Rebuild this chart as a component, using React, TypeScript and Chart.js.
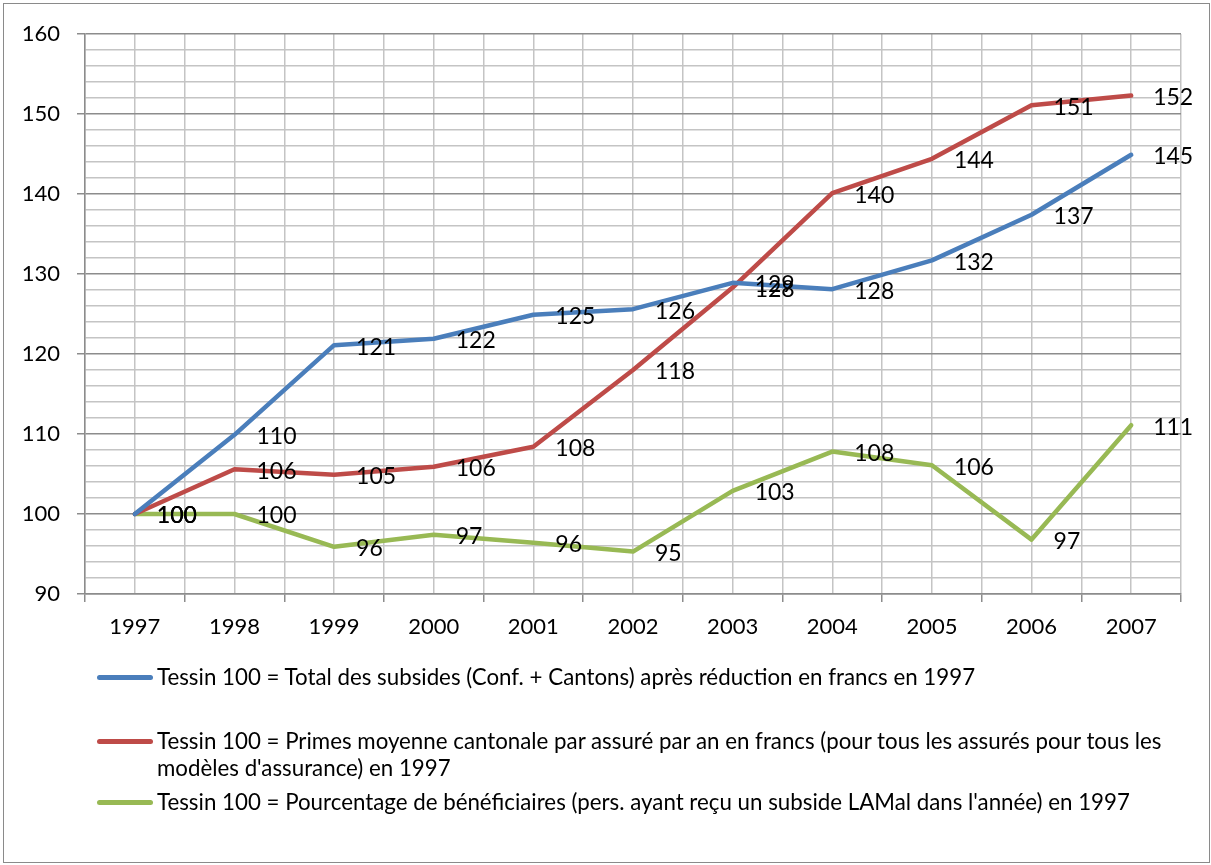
import React, { useEffect, useRef } from "react";
import { Chart, registerables } from "chart.js";

Chart.register(...registerables);

const years = ["1997", "1998", "1999", "2000", "2001", "2002", "2003", "2004", "2005", "2006", "2007"];
const totalSubsides = [100, 109.9, 121.1, 121.9, 124.9, 125.6, 128.9, 128.1, 131.7, 137.4, 144.9];
const primesMoyennes = [100, 105.6, 104.9, 105.9, 108.4, 118.0, 128.3, 140.1, 144.4, 151.1, 152.3];
const beneficiaires = [100, 100, 95.9, 97.4, 96.4, 95.3, 102.9, 107.8, 106.1, 96.8, 111.1];

const seriesLabels = [
  "Tessin 100 = Total des subsides (Conf. + Cantons) après réduction en francs en 1997",
  "Tessin 100 = Primes moyenne cantonale par assuré par an en francs (pour tous les assurés pour tous les\nmodèles d'assurance) en 1997",
  "Tessin 100 = Pourcentage de bénéficiaires (pers. ayant reçu un subside LAMal dans l'année) en 1997",
];
const seriesColors = ["#4A7EBB", "#BE4B48", "#98B954"];
const seriesValues = [totalSubsides, primesMoyennes, beneficiaires];

const yMin = 90;
const yMax = 160;

const FONT = "Lato, 'Open Sans', sans-serif";

const dataLabelPlugin = {
  id: "dataLabels",
  afterDatasetsDraw(chart: any) {
    const ctx = chart.ctx;
    ctx.save();
    ctx.font = `23px ${FONT}`;
    ctx.fillStyle = "#000";
    ctx.textAlign = "left";
    ctx.textBaseline = "middle";
    chart.data.datasets.forEach((ds: any, i: number) => {
      const meta = chart.getDatasetMeta(i);
      meta.data.forEach((pt: any, j: number) => {
        const v = ds.data[j].y;
        ctx.fillText(String(Math.round(v)), pt.x + 22, pt.y + 2);
      });
    });
    ctx.restore();
  },
};

export default function App() {
  const canvasRef = useRef<HTMLCanvasElement | null>(null);

  useEffect(() => {
    if (!canvasRef.current) return;
    const chart = new Chart(canvasRef.current, {
      type: "line",
      data: {
        datasets: seriesValues.map((vals, i) => ({
          label: seriesLabels[i],
          data: vals.map((v, j) => ({ x: j, y: v })),
          borderColor: seriesColors[i],
          backgroundColor: seriesColors[i],
          borderWidth: 4.5,
          pointRadius: 0,
          tension: 0,
          borderJoinStyle: "round",
          borderCapStyle: "round",
        })),
      },
      options: {
        animation: false,
        responsive: false,
        devicePixelRatio: 1,
        layout: { padding: { left: 0, right: 30, top: 34, bottom: 0 } },
        plugins: {
          legend: { display: false },
          tooltip: { enabled: false },
          title: { display: false },
        },
        scales: {
          x: {
            type: "linear",
            min: -0.5,
            max: years.length - 0.5,
            afterFit: (scale: any) => {
              scale.height = 271;
            },
            ticks: {
              stepSize: 0.5,
              autoSkip: false,
              maxRotation: 0,
              padding: 12,
              color: "#000",
              font: { family: FONT, size: 22 },
              callback: (value: any) =>
                Number.isInteger(value) ? years[value] ?? "" : "",
            },
            grid: {
              color: "#c4c4c4",
              lineWidth: 1.5,
              tickLength: 8,
              tickColor: (ctx: any) =>
                ctx.tick && !Number.isInteger(ctx.tick.value) ? "#8c8c8c" : "rgba(0,0,0,0)",
            },
            border: { color: "#8c8c8c", width: 1.5 },
          },
          y: {
            min: yMin,
            max: yMax,
            afterFit: (scale: any) => {
              scale.width = 85;
            },
            ticks: {
              stepSize: 2,
              autoSkip: false,
              padding: 17,
              color: "#000",
              font: { family: FONT, size: 22 },
              callback: (value: any) => (value % 10 === 0 ? String(value) : ""),
            },
            grid: {
              color: (ctx: any) =>
                ctx.tick && ctx.tick.value % 10 === 0 ? "#8c8c8c" : "#c4c4c4",
              lineWidth: 1.5,
              tickLength: 8,
              tickColor: (ctx: any) =>
                ctx.tick && ctx.tick.value % 10 === 0 ? "#8c8c8c" : "rgba(0,0,0,0)",
            },
            border: { color: "#8c8c8c", width: 1.5 },
          },
        },
      },
      plugins: [dataLabelPlugin],
    } as any);
    return () => chart.destroy();
  }, []);

  const legendTops = [663, 727, 788];

  return (
    <div
      style={{
        position: "absolute",
        left: 0,
        top: 0,
        width: 1211,
        height: 865,
        background: "#fff",
        overflow: "hidden",
        fontFamily: FONT,
      }}
    >
      <canvas
        ref={canvasRef}
        width={1211}
        height={865}
        style={{ position: "absolute", left: 0, top: 0, width: 1211, height: 865 }}
      />
      {seriesLabels.map((label, i) => (
        <div
          key={i}
          style={{
            position: "absolute",
            left: 97,
            top: legendTops[i],
            display: "flex",
            alignItems: "flex-start",
          }}
        >
          <div
            style={{
              width: 56,
              height: 5,
              borderRadius: 3,
              background: seriesColors[i],
              marginTop: 11.5,
              flex: "0 0 auto",
            }}
          />
          <div
            style={{
              marginLeft: 4,
              fontSize: 22.3,
              lineHeight: "27px",
              color: "#000",
              whiteSpace: "pre",
            }}
          >
            {label}
          </div>
        </div>
      ))}
      <div
        style={{
          position: "absolute",
          left: 3,
          top: 3,
          width: 1207,
          height: 860,
          border: "1.5px solid #8a8a8a",
          boxSizing: "border-box",
          pointerEvents: "none",
        }}
      />
    </div>
  );
}
